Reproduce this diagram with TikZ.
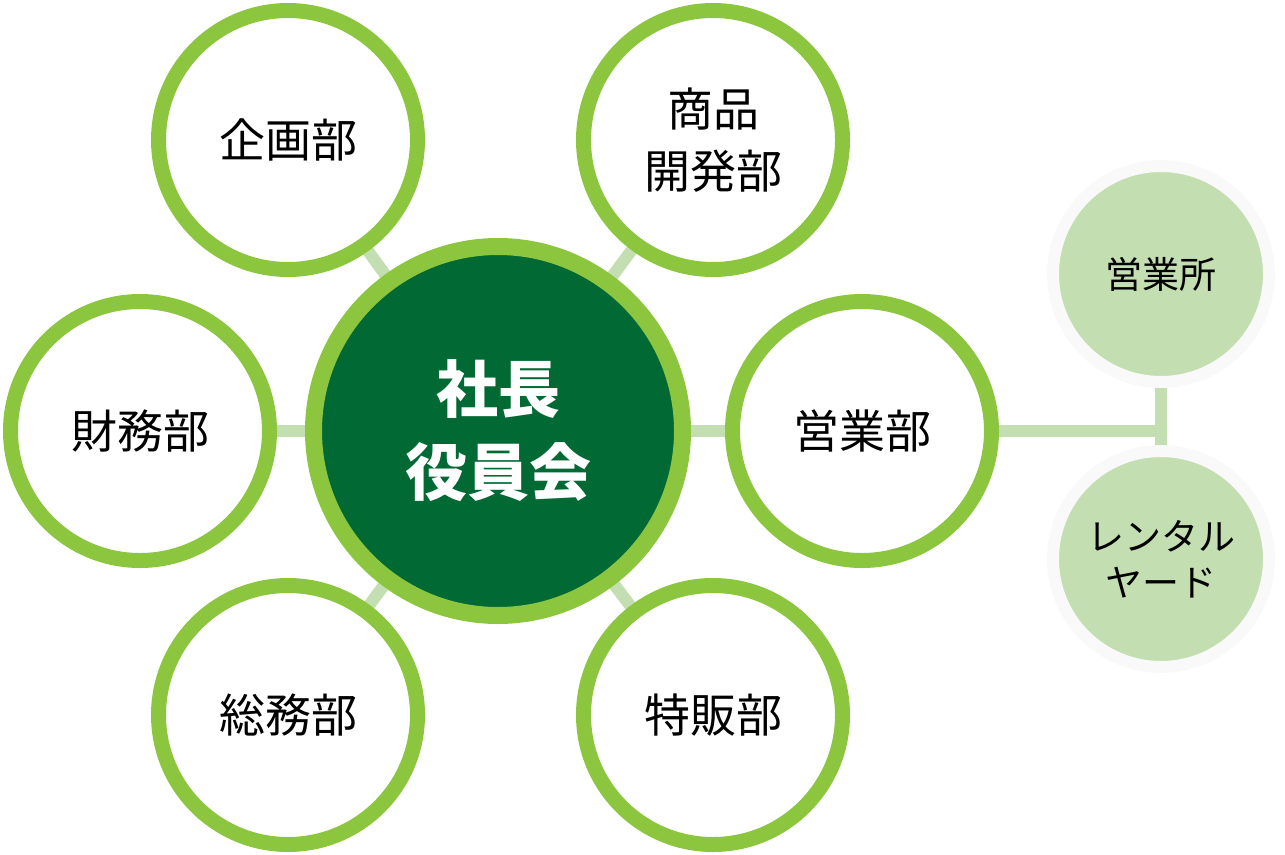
\documentclass[tikz,border=0pt]{standalone}
\usepackage{fontspec}
\setmainfont{Noto Sans CJK JP}
\definecolor{ringgreen}{HTML}{8CC63F}
\definecolor{darkgreen}{HTML}{006934}
\definecolor{linkgreen}{HTML}{C3DFB2}
\definecolor{faint}{HTML}{F9F9F9}
\tikzset{
  dept/.style={circle, draw=ringgreen, line width=15pt, fill=white, minimum size=259pt, inner sep=0pt,
    align=center, font=\fontsize{46}{62}\selectfont, text=black},
  boss/.style={circle, draw=ringgreen, line width=17pt, fill=darkgreen, minimum size=369pt, inner sep=0pt,
    align=center, font=\fontsize{62}{83}\selectfont\bfseries, text=white},
  branch/.style={circle, draw=faint, line width=12pt, fill=linkgreen, minimum size=216pt, inner sep=0pt,
    align=center, font=\fontsize{37}{46}\selectfont, text=black},
  link/.style={draw=linkgreen, line width=12pt}
}
\begin{document}
\begin{tikzpicture}[x=1pt,y=-1pt]
\useasboundingbox (0,0) rectangle (1285,854);
% connectors first (behind)
\coordinate (cC) at (498,431);
\coordinate (cK) at (288,140);
\coordinate (cS) at (713,140);
\coordinate (cZ) at (140,431);
\coordinate (cE) at (862,431);
\coordinate (cG) at (288,715);
\coordinate (cT) at (713,715);
\coordinate (cB1) at (1161,274);
\coordinate (cB2) at (1161,559);
\coordinate (tj) at (1161,431);
\draw[link] (cC) -- (cK);
\draw[link] (cC) -- (cS);
\draw[link] (cC) -- (cZ);
\draw[link] (cC) -- (cE);
\draw[link] (cC) -- (cG);
\draw[link] (cC) -- (cT);
\draw[link] (cE) -- (tj);
\draw[link] (cB1) -- (cB2);
% nodes
\node[boss] (center) at (cC) {社長\\役員会};
\node[dept] (kikaku) at (cK) {企画部};
\node[dept] (shohin) at (cS) {商品\\開発部};
\node[dept] (zaimu) at (cZ) {財務部};
\node[dept] (eigyo) at (cE) {営業部};
\node[dept] (somu) at (cG) {総務部};
\node[dept] (tokuhan) at (cT) {特販部};
\node[branch] (eigyosho) at (cB1) {営業所};
\node[branch] (rental) at (cB2) {レンタル\\ヤード};
\end{tikzpicture}
\end{document}
